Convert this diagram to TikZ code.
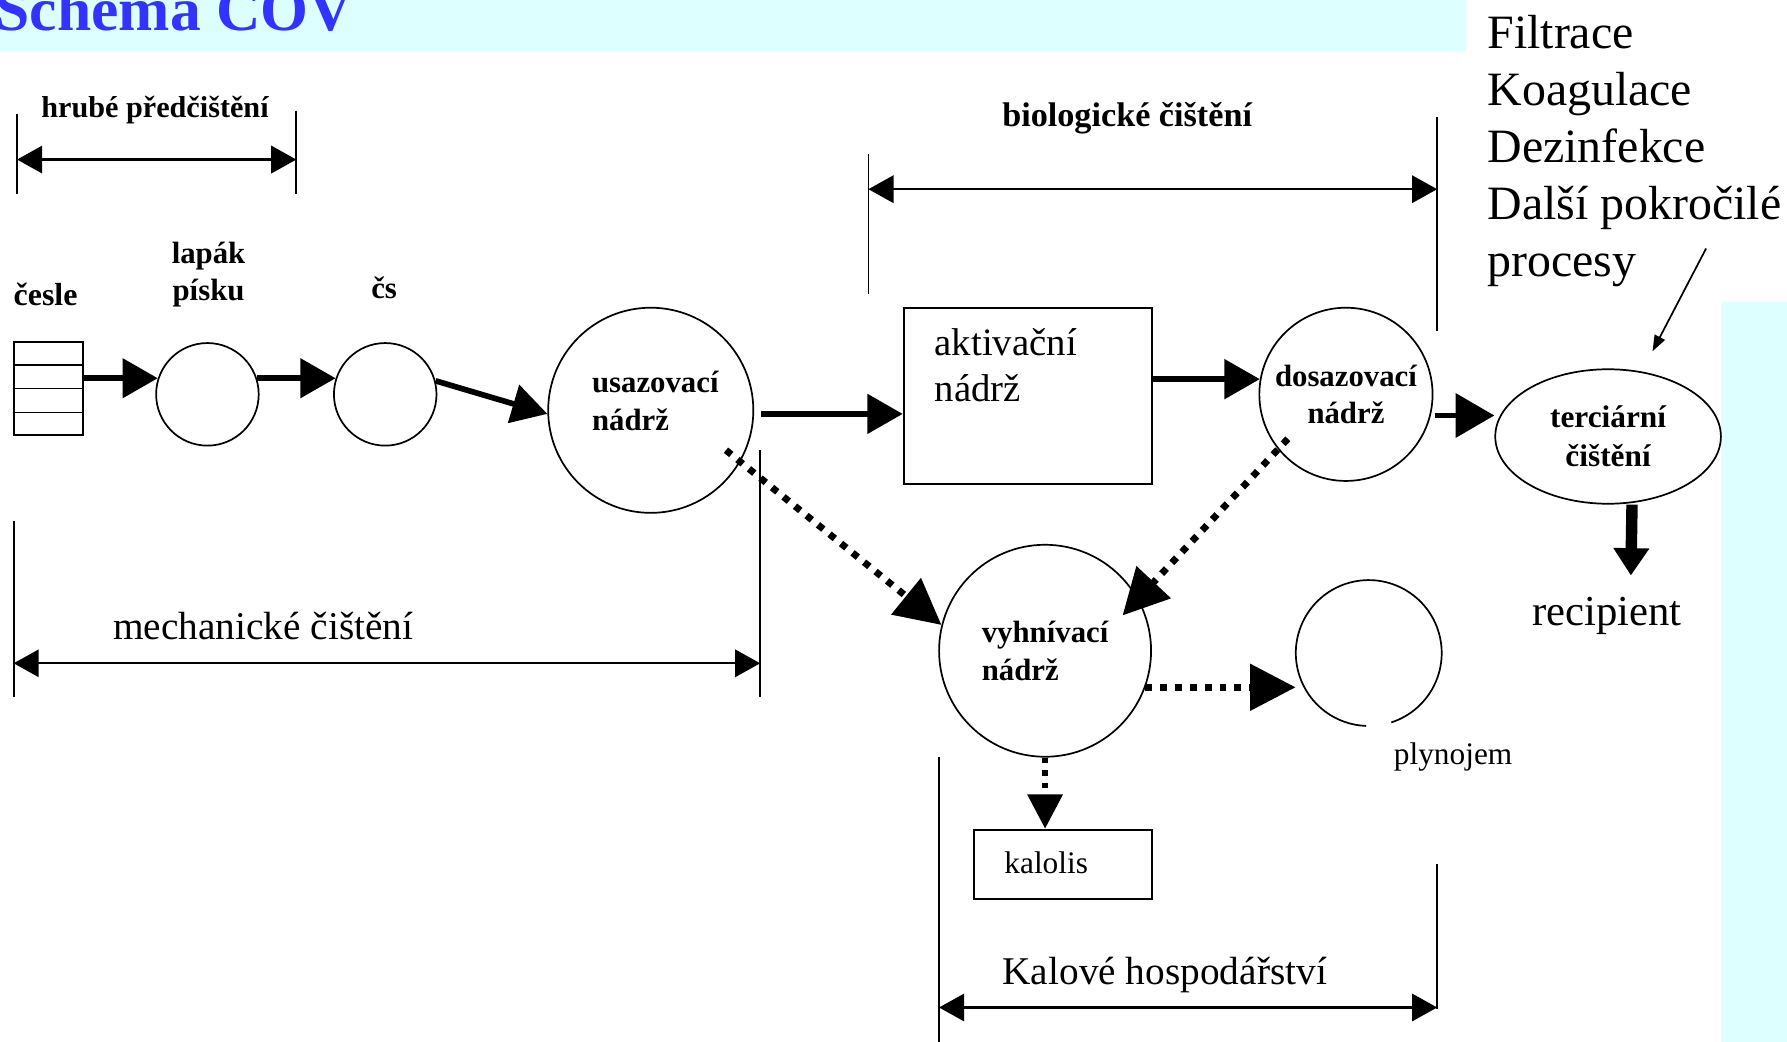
\documentclass[tikz,border=0pt]{standalone}
\usepackage{fontspec}
\setmainfont{Liberation Serif}
\usetikzlibrary{arrows.meta,shapes.geometric,calc}
\definecolor{bandcyan}{RGB}{221,255,255}
\definecolor{titleblue}{RGB}{51,51,255}
\begin{document}
\begin{tikzpicture}[x=1pt,y=-1pt,
  tank/.style={circle,draw,line width=1.5pt,inner sep=0pt,align=left,font=\fontsize{27}{33}\selectfont\bfseries},
  boxnode/.style={rectangle,draw,line width=1.8pt,inner sep=0pt},
  bl/.style={font=\fontsize{27}{33}\selectfont\bfseries,inner sep=0pt,align=left},
  nl/.style={font=\fontsize{34}{40}\selectfont,inner sep=0pt,align=left},
  flow/.style={line width=5pt,-{Triangle[length=31pt,width=34pt]}},
  dotflow/.style={line width=6pt,dash pattern=on 6pt off 7pt,-{Triangle[length=40pt,width=40pt]}},
  dotshort/.style={line width=5pt,dash pattern=on 5pt off 6pt,-{Triangle[length=30pt,width=30pt]}},
  dim/.style={line width=2pt,{Triangle[length=22pt,width=24pt]}-{Triangle[length=22pt,width=24pt]}},
  tick/.style={line width=1.5pt},
]
\useasboundingbox (0,0) rectangle (1568,914);
\clip (0,0) rectangle (1568,914);
% bands
\fill[bandcyan] (0,0) rectangle (1286,45);
\fill[bandcyan] (1510,265) rectangle (1568,914);
\node[anchor=base west,inner sep=0pt,font=\fontsize{54}{60}\selectfont\bfseries,text=titleblue] (title) at (-4,27) {Schema ČOV};
% tertiary text
\node[anchor=north west,inner sep=0pt,align=left,font=\fontsize{42}{50}\selectfont] (tert) at (1305,13) {Filtrace\\Koagulace\\Dezinfekce\\Další pokročilé\\procesy};
% shapes
\node[boxnode,minimum width=61pt,minimum height=82pt] (cesle) at (42.5,341) {};
\foreach \i in {1,2,3}
  \draw[line width=1.5pt] ($(cesle.north west)!\i/4!(cesle.south west)$) -- ($(cesle.north east)!\i/4!(cesle.south east)$);
\node[tank,minimum size=90pt] (lapak) at (182,346) {};
\node[tank,minimum size=90pt] (cs) at (338,346) {};
\node[tank,minimum size=180pt] (usaz) at (571,360) {};
\node[bl] (usazlbl) at (575,352) {usazovací\\nádrž};
\node[boxnode,minimum width=218pt,minimum height=155pt] (akt) at (902,347.5) {};
\node[nl,anchor=north west] (aktlbl) at (820,288) {aktivační\\nádrž};
\node[tank,minimum size=152pt,align=center] (dosaz) at (1181,346) {dosazovací\\nádrž};
\node[ellipse,draw,line width=1.5pt,minimum width=198pt,minimum height=118pt,inner sep=0pt,font=\fontsize{27.5}{34}\selectfont\bfseries,align=center] (terc) at (1411,383) {terciární\\čištění};
\node[tank,minimum size=186pt] (vyhn) at (917,571) {vyhnívací\\nádrž};
\node[circle,minimum size=128pt,inner sep=0pt] (plyn) at (1201,573) {};
\draw[line width=1.5pt] ($(plyn)+(-72:64pt)$) arc[start angle=-72,end angle=268,radius=64pt];
\node[boxnode,minimum width=156pt,minimum height=61pt] (kal) at (933,758.5) {};
\node[font=\fontsize{27.5}{30}\selectfont,inner sep=0pt,anchor=base] (kallbl) at (918,766) {kalolis};
% labels
\node[bl,anchor=base,font=\fontsize{28}{33}\selectfont\bfseries] (ceslelbl) at (40,268) {česle};
\node[bl,align=center] (lapaklbl) at (183,241) {lapák\\písku};
\node[bl,anchor=base] (cslbl) at (337,262) {čs};
\node[font=\fontsize{27.5}{30}\selectfont,inner sep=0pt,anchor=base] (plynlbl) at (1275,671) {plynojem};
\node[font=\fontsize{37.5}{40}\selectfont,inner sep=0pt,anchor=base] (recip) at (1410,549) {recipient};
% dimension: hrube predcisteni
\coordinate (h1t) at (15,100); \coordinate (h1b) at (15,170);
\coordinate (h2t) at (260,97); \coordinate (h2b) at (260,170);
\coordinate (ha) at (15,140); \coordinate (hb) at (260,140);
\draw[tick] (h1t) -- (h1b); \draw[tick] (h2t) -- (h2b);
\draw[dim] (ha) -- (hb);
\node[bl,anchor=base,font=\fontsize{26.5}{33}\selectfont\bfseries] (hrubelbl) at (136,103) {hrubé předčištění};
% biologicke
\coordinate (b1t) at (762,135); \coordinate (b1b) at (762,258);
\coordinate (b2t) at (1261,103); \coordinate (b2b) at (1261,290);
\coordinate (ba) at (762,166); \coordinate (bb) at (1261,166);
\draw[tick] (b1t) -- (b1b); \draw[tick] (b2t) -- (b2b);
\draw[dim] (ba) -- (bb);
\node[font=\fontsize{30}{33}\selectfont\bfseries,inner sep=0pt,anchor=base] (biolbl) at (989,111) {biologické čištění};
% mechanicke
\coordinate (m1t) at (12,457); \coordinate (m1b) at (12,612);
\coordinate (m2t) at (667,395); \coordinate (m2b) at (667,612);
\coordinate (ma) at (12,582); \coordinate (mb) at (667,582);
\draw[tick] (m1t) -- (m1b); \draw[tick] (m2t) -- (m2b);
\draw[dim] (ma) -- (mb);
\node[font=\fontsize{34.5}{40}\selectfont,inner sep=0pt,anchor=base] (mechlbl) at (231,561) {mechanické čištění};
% kalove
\coordinate (k1t) at (824,664); \coordinate (k1b) at (824,914);
\coordinate (k2t) at (1261,758); \coordinate (k2b) at (1261,885);
\coordinate (ka) at (824,884); \coordinate (kb) at (1261,884);
\draw[tick] (k1t) -- (k1b); \draw[tick] (k2t) -- (k2b);
\draw[dim] (ka) -- (kb);
\node[font=\fontsize{34.5}{40}\selectfont,inner sep=0pt,anchor=base] (kallbl2) at (1022,864) {Kalové hospodářství};
% flows
\draw[flow] (cesle.east |- lapak.162) -- (lapak.162);
\draw[flow] (lapak.18) -- (cs.162);
\draw[flow] (cs.15) -- (usaz.182);
\draw[flow,shorten <=6pt] (usaz.-2) -- (usaz.-2 -| akt.west);
\draw[flow] (dosaz.170 -| akt.east) -- (dosaz.170);
\draw[flow,shorten <=4pt,-{Triangle[length=34pt,width=38pt]}] (dosaz.-14) -- (dosaz.-14 -| terc.west);
\draw[line width=10pt,-{Triangle[length=24pt,width=30pt]}] ($(terc.south)+(21,0)$) -- ($(recip.north)+(21,-19)$);
\coordinate (pk) at (1497,218);
\draw[line width=1.5pt,-{Triangle[length=14pt,width=10pt]},shorten >=20pt] (pk) -- (terc);
% dotted flows
\draw[dotflow] ($(usaz)+(66,35)$) -- (vyhn.166);
\draw[dotflow] ($(dosaz)+(-51,39)$) -- ($(vyhn)+(68,-31)$);
\draw[dotflow] (vyhn.-20) -- (vyhn.-20 -| plyn.west);
\draw[dotshort] (vyhn.south) -- (vyhn.south |- kal.north);
\end{tikzpicture}
\end{document}
